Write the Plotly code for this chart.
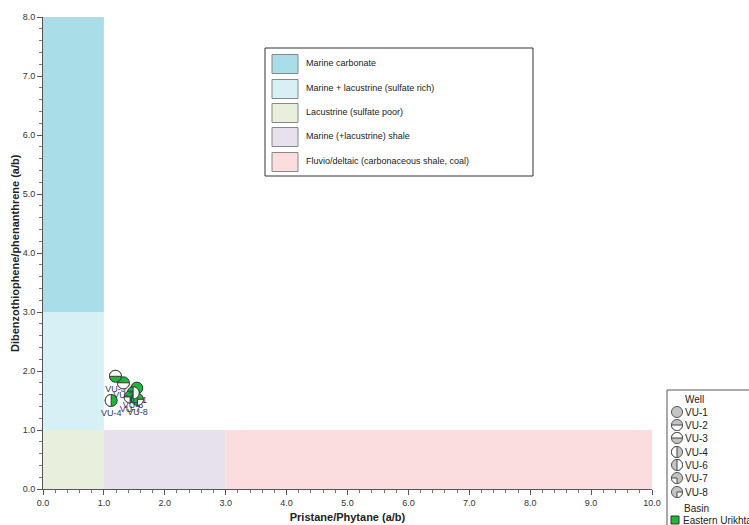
import numpy as np
import plotly.graph_objects as go

# ---------------- data ----------------
region_names = ["Marine carbonate", "Marine + lacustrine (sulfate rich)", "Lacustrine (sulfate poor)",
                "Marine (+lacustrine) shale", "Fluvio/deltaic (carbonaceous shale, coal)"]
region_x0 = [0, 0, 0, 1, 3]
region_x1 = [1, 1, 1, 3, 10]
region_y0 = [3, 1, 0, 0, 0]
region_y1 = [8, 3, 1, 1, 1]
region_colors = ["#a9dee9", "#d6f0f6", "#e8efdd", "#e7e1ee", "#fbdcdf"]

wells = ["VU-1", "VU-2", "VU-3", "VU-4", "VU-6", "VU-7", "VU-8"]
pr_ph = [1.54, 1.32, 1.19, 1.12, 1.48, 1.43, 1.55]
dbt_phen = [1.71, 1.80, 1.91, 1.50, 1.63, 1.56, 1.52]
# white part of each well symbol (angle range in degrees, counter-clockwise from east)
well_white = {"VU-1": None, "VU-2": (180, 360), "VU-3": (0, 180), "VU-4": (90, 270),
              "VU-6": (-90, 90), "VU-7": (180, 270), "VU-8": (270, 360)}
basin = "Eastern Urikhtau"
basin_color = "#22b53c"

x_ticks = [0, 1, 2, 3, 4, 5, 6, 7, 8, 9, 10]
y_ticks = [0, 1, 2, 3, 4, 5, 6, 7, 8]

# ---------------- layout helpers ----------------
W, H = 749, 525
PL, PT, PR, PB = 43, 17, 652, 489
PW, PH = PR - PL, PB - PT


def px(x):
    return (x - PL) / PW


def py(y):
    return (PB - y) / PH


def wedge_path(r, a0, a1, n=24):
    ang = np.radians(np.linspace(a0, a1, n))
    pts = ["M 0,0"] + [f"L {r*np.cos(a):.2f},{r*np.sin(a):.2f}" for a in ang] + ["Z"]
    return " ".join(pts)


def circle_path(r, n=40):
    ang = np.radians(np.linspace(0, 360, n, endpoint=False))
    pts = [f"{'M' if i == 0 else 'L'} {r*np.cos(a):.2f},{r*np.sin(a):.2f}" for i, a in enumerate(ang)]
    return " ".join(pts) + " Z"


FONT = "Arial, Liberation Sans, sans-serif"
fig = go.Figure()
shapes = []
annotations = []

# background regions
for x0, x1, y0, y1, c in zip(region_x0, region_x1, region_y0, region_y1, region_colors):
    shapes.append(dict(type="rect", xref="x", yref="y", x0=x0, x1=x1, y0=y0, y1=y1,
                       fillcolor=c, line=dict(width=0), layer="below"))

# data points
fig.add_trace(go.Scatter(
    x=pr_ph, y=dbt_phen, mode="markers+text", text=wells, textposition="bottom center",
    textfont=dict(family=FONT, size=9, color="#333366"),
    marker=dict(symbol="circle", size=12, color=basin_color, line=dict(color="#333333", width=1)),
    showlegend=False, hoverinfo="x+y+text"))

R = 6
for w, xv, yv in zip(wells, pr_ph, dbt_phen):
    ww = well_white[w]
    if ww is None:
        continue
    shapes.append(dict(type="path", xref="x", yref="y", xsizemode="pixel", ysizemode="pixel",
                       xanchor=xv, yanchor=yv, path=wedge_path(R, ww[0], ww[1]),
                       fillcolor="white", line=dict(color="#333333", width=1), layer="above"))

# region legend box
shapes.append(dict(type="rect", xref="paper", yref="paper", x0=px(265), x1=px(533), y0=py(176), y1=py(48),
                   fillcolor="white", line=dict(color="#333333", width=1), layer="above"))
row_y = [64, 89, 113, 137, 162]
for name, c, ry in zip(region_names, region_colors, row_y):
    shapes.append(dict(type="rect", xref="paper", yref="paper", x0=px(272), x1=px(298),
                       y0=py(ry + 9.5), y1=py(ry - 9.5), fillcolor=c,
                       line=dict(color="#888888", width=1), layer="above"))
    annotations.append(dict(xref="paper", yref="paper", x=px(304), y=py(ry - 1), text=name,
                            showarrow=False, xanchor="left", yanchor="middle",
                            font=dict(family=FONT, size=9, color="#222222")))

# well / basin legend box (partly outside the figure, as in the original)
shapes.append(dict(type="rect", xref="paper", yref="paper", x0=px(667), x1=px(800), y0=py(560), y1=py(390),
                   fillcolor="white", line=dict(color="#555555", width=1), layer="above"))
annotations.append(dict(xref="paper", yref="paper", x=px(683), y=py(399), text="Well", showarrow=False,
                        xanchor="left", yanchor="middle", font=dict(family=FONT, size=10, color="#222222")))
leg_y = [412, 425, 438, 452, 465, 478, 492]
for w, ly in zip(wells, leg_y):
    shapes.append(dict(type="path", xref="paper", yref="paper", xsizemode="pixel", ysizemode="pixel",
                       xanchor=px(677), yanchor=py(ly), path=circle_path(5.5),
                       fillcolor="#c4c4c4", line=dict(color="#444444", width=1), layer="above"))
    ww = well_white[w]
    if ww is not None:
        shapes.append(dict(type="path", xref="paper", yref="paper", xsizemode="pixel", ysizemode="pixel",
                           xanchor=px(677), yanchor=py(ly), path=wedge_path(5.5, ww[0], ww[1]),
                           fillcolor="white", line=dict(color="#444444", width=1), layer="above"))
    annotations.append(dict(xref="paper", yref="paper", x=px(683), y=py(ly), text=w, showarrow=False,
                            xanchor="left", yanchor="middle", font=dict(family=FONT, size=10, color="#222222")))
annotations.append(dict(xref="paper", yref="paper", x=px(682), y=py(508), text="Basin", showarrow=False,
                        xanchor="left", yanchor="middle", font=dict(family=FONT, size=10, color="#222222")))
shapes.append(dict(type="rect", xref="paper", yref="paper", x0=px(671), x1=px(679), y0=py(524), y1=py(516),
                   fillcolor=basin_color, line=dict(color="#333333", width=1), layer="above"))
annotations.append(dict(xref="paper", yref="paper", x=px(681), y=py(520), text=basin, showarrow=False,
                        xanchor="left", yanchor="middle", font=dict(family=FONT, size=10, color="#222222")))

# y-axis title, placed as in the original
annotations.append(dict(xref="paper", yref="paper", x=px(15), y=py(253),
                        text="<b>Dibenzothiophene/phenanthrene (a/b)</b>", textangle=-90, showarrow=False,
                        xanchor="center", yanchor="middle",
                        font=dict(family=FONT, size=11, color="#222222")))

axis_common = dict(showgrid=False, zeroline=False, showline=True, linecolor="#555555", linewidth=1,
                   automargin=False,
                   ticks="outside", ticklen=5, tickcolor="#555555", tickformat=".1f",
                   tickfont=dict(family=FONT, size=9, color="#333333"),
                   minor=dict(dtick=0.2, ticks="outside", ticklen=3, tickcolor="#777777"))

fig.update_layout(
    width=W, height=H, margin=dict(l=PL, r=W - PR, t=PT, b=H - PB, autoexpand=False),
    paper_bgcolor="white", plot_bgcolor="white",
    xaxis=dict(range=[0, 10], tickvals=x_ticks, **axis_common,
               title=dict(text="<b>Pristane/Phytane (a/b)</b>", font=dict(family=FONT, size=11, color="#222222"),
                          standoff=6)),
    yaxis=dict(range=[0, 8], tickvals=y_ticks, **axis_common),
    shapes=shapes, annotations=annotations, showlegend=False,
)

fig.write_html("out.html", config={"displayModeBar": False},
               post_script="document.body.style.margin='0';")
